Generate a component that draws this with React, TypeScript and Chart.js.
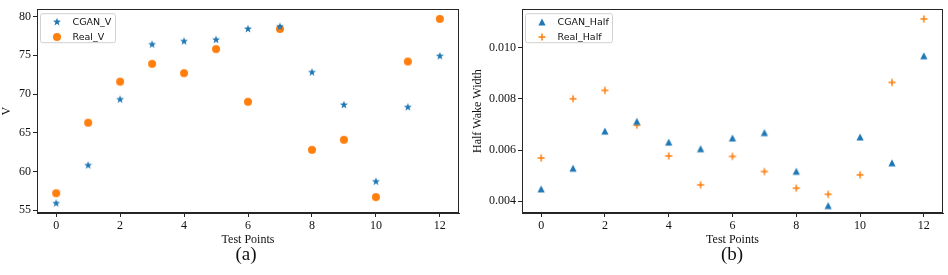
import React, { useEffect, useRef } from 'react';
import { Chart, registerables } from 'chart.js';
Chart.register(...registerables);

const testPoints = [0, 1, 2, 3, 4, 5, 6, 7, 8, 9, 10, 11, 12];
const cganV = [55.9, 60.8, 69.3, 76.4, 76.8, 77.0, 78.4, 78.7, 72.8, 68.6, 58.7, 68.3, 74.9];
const realV = [57.2, 66.3, 71.6, 73.9, 72.7, 75.8, 69.0, 78.4, 62.8, 64.1, 56.7, 74.2, 79.7];
const cganHalf = [0.00448, 0.00529, 0.00674, 0.00712, 0.00631, 0.00605, 0.00647, 0.00668, 0.00517, 0.00383, 0.00651, 0.0055, 0.00968];
const realHalf = [0.00569, 0.0080, 0.00833, 0.00697, 0.00577, 0.00464, 0.00575, 0.00516, 0.00451, 0.00427, 0.00503, 0.00864, 0.01112];
const xTicks = [0, 2, 4, 6, 8, 10, 12];
const vTicks = [55, 60, 65, 70, 75, 80];
const halfTicks = [0.004, 0.006, 0.008, 0.010];

const BLUE = '#1f77b4';
const ORANGE = '#ff7f0e';
const SERIF = "'Liberation Serif', 'Times New Roman', serif";
const SANS = "'DejaVu Sans', sans-serif";

type Marker = 'star' | 'circle' | 'triangle' | 'plus';

function makeMarker(kind: Marker, color: string): HTMLCanvasElement {
  const s = 10;
  const c = document.createElement('canvas');
  c.width = s;
  c.height = s;
  const ctx = c.getContext('2d')!;
  const cx = s / 2, cy = s / 2;
  ctx.fillStyle = color;
  ctx.strokeStyle = color;
  if (kind === 'star') {
    const R = 4.2, r = 1.7;
    ctx.beginPath();
    for (let i = 0; i < 10; i++) {
      const ang = -Math.PI / 2 + (i * Math.PI) / 5;
      const rad = i % 2 === 0 ? R : r;
      const px = cx + rad * Math.cos(ang);
      const py = cy + rad * Math.sin(ang);
      if (i === 0) ctx.moveTo(px, py); else ctx.lineTo(px, py);
    }
    ctx.closePath();
    ctx.fill();
  } else if (kind === 'circle') {
    ctx.beginPath();
    ctx.arc(cx, cy, 4, 0, Math.PI * 2);
    ctx.fill();
  } else if (kind === 'triangle') {
    ctx.beginPath();
    ctx.moveTo(cx, cy - 3.6);
    ctx.lineTo(cx + 3.6, cy + 3.6);
    ctx.lineTo(cx - 3.6, cy + 3.6);
    ctx.closePath();
    ctx.fill();
  } else {
    ctx.lineWidth = 1.5;
    ctx.beginPath();
    ctx.moveTo(cx - 3.5, cy);
    ctx.lineTo(cx + 3.5, cy);
    ctx.moveTo(cx, cy - 3.5);
    ctx.lineTo(cx, cy + 3.5);
    ctx.stroke();
  }
  return c;
}

interface PanelProps {
  width: number;
  height: number;
  left: number;
  yAxisWidth: number;
  rightPad: number;
  yMin: number;
  yMax: number;
  yTicks: number[];
  yDecimals: number;
  yTitle: string;
  yTitlePad: number;
  names: string[];
  series: number[][];
  markers: Marker[];
  colors: string[];
}

function Panel(p: PanelProps) {
  const ref = useRef<HTMLCanvasElement>(null);
  useEffect(() => {
    const imgs = p.markers.map((m, i) => makeMarker(m, p.colors[i]));
    const framePlugin = {
      id: 'frameLegend',
      afterDraw(chart: any) {
        const { ctx, chartArea: a } = chart;
        ctx.save();
        ctx.strokeStyle = '#262626';
        ctx.lineWidth = 1;
        ctx.strokeRect(Math.round(a.left) + 0.5, Math.round(a.top) + 0.5, Math.round(a.right - a.left) - 1, Math.round(a.bottom - a.top) - 1);
        // legend
        ctx.font = `9.5px ${SANS}`;
        const maxW = Math.max(...p.names.map((n) => ctx.measureText(n).width));
        const bx = a.left + 3.5, by = a.top + 4.5;
        const bw = Math.round(32 + maxW + 4), bh = 29;
        const r = 2;
        ctx.beginPath();
        ctx.moveTo(bx + r, by);
        ctx.lineTo(bx + bw - r, by);
        ctx.quadraticCurveTo(bx + bw, by, bx + bw, by + r);
        ctx.lineTo(bx + bw, by + bh - r);
        ctx.quadraticCurveTo(bx + bw, by + bh, bx + bw - r, by + bh);
        ctx.lineTo(bx + r, by + bh);
        ctx.quadraticCurveTo(bx, by + bh, bx, by + bh - r);
        ctx.lineTo(bx, by + r);
        ctx.quadraticCurveTo(bx, by, bx + r, by);
        ctx.closePath();
        ctx.fillStyle = 'rgba(255,255,255,0.8)';
        ctx.fill();
        ctx.strokeStyle = '#d0d0d0';
        ctx.stroke();
        ctx.textBaseline = 'middle';
        ctx.textAlign = 'left';
        ctx.fillStyle = '#111';
        p.names.forEach((n, i) => {
          const yy = by + 8.5 + i * 14.5;
          const im = imgs[i];
          ctx.drawImage(im, Math.round(bx + 16 - im.width / 2), Math.round(yy - im.height / 2));
          ctx.fillText(n, bx + 32, yy + 0.5);
        });
        ctx.restore();
      },
    };
    const tickFont = { family: SERIF, size: 12 };
    const chart = new Chart(ref.current!, {
      type: 'scatter',
      data: {
        datasets: p.series.map((vals, i) => ({
          label: p.names[i],
          data: vals.map((v, j) => ({ x: testPoints[j], y: v })),
          pointStyle: imgs[i] as any,
          pointRadius: 4,
          backgroundColor: p.colors[i],
          borderColor: p.colors[i],
        })),
      },
      options: {
        animation: false,
        responsive: false,
        maintainAspectRatio: false,
        layout: { padding: { left: 0, top: 3, right: p.rightPad, bottom: 0 } },
        plugins: { legend: { display: false }, tooltip: { enabled: false } },
        scales: {
          x: {
            type: 'linear',
            min: -0.6,
            max: 12.6,
            afterBuildTicks: (s: any) => {
              s.ticks = xTicks.map((v) => ({ value: v }));
            },
            afterFit: (s: any) => {
              s.height = 37;
            },
            grid: { display: true, drawOnChartArea: false, drawTicks: true, tickLength: 4, color: '#262626', lineWidth: 1 },
            border: { display: true, color: '#262626' },
            ticks: { font: tickFont, color: '#111', padding: 2, maxRotation: 0, autoSkip: false, callback: (v: any) => String(v) },
            title: { display: true, text: 'Test Points', font: tickFont, color: '#111', padding: { top: 0, bottom: 3 } },
          },
          y: {
            type: 'linear',
            min: p.yMin,
            max: p.yMax,
            afterBuildTicks: (s: any) => {
              s.ticks = p.yTicks.map((v) => ({ value: v }));
            },
            afterFit: (s: any) => {
              s.width = p.yAxisWidth;
            },
            grid: { display: true, drawOnChartArea: false, drawTicks: true, tickLength: 4, color: '#262626', lineWidth: 1 },
            border: { display: true, color: '#262626' },
            ticks: { font: tickFont, color: '#111', padding: 2, autoSkip: false, callback: (v: any) => Number(v).toFixed(p.yDecimals) },
            title: { display: true, text: p.yTitle, font: tickFont, color: '#111', padding: { top: p.yTitlePad, bottom: 0 } },
          },
        },
      },
      plugins: [framePlugin],
    } as any);
    return () => chart.destroy();
  }, []);
  return (
    <canvas
      ref={ref}
      width={p.width}
      height={p.height}
      style={{ position: 'absolute', left: p.left, top: 0, width: p.width, height: p.height }}
    />
  );
}

export default function App() {
  return (
    <div style={{ position: 'absolute', left: 0, top: 0, width: 948, height: 275, background: '#fff', overflow: 'hidden' }}>
      <Panel
        width={470}
        height={250}
        left={0}
        yAxisWidth={37}
        rightPad={11}
        yMin={54.65}
        yMax={80.95}
        yTicks={vTicks}
        yDecimals={0}
        yTitle="V"
        yTitlePad={0}
        names={['CGAN_V', 'Real_V']}
        series={[cganV, realV]}
        markers={['star', 'circle']}
        colors={[BLUE, ORANGE]}
      />
      <Panel
        width={478}
        height={250}
        left={470}
        yAxisWidth={52}
        rightPad={3}
        yMin={0.00354}
        yMax={0.0115}
        yTicks={halfTicks}
        yDecimals={3}
        yTitle="Half Wake Width"
        yTitlePad={1}
        names={['CGAN_Half', 'Real_Half']}
        series={[cganHalf, realHalf]}
        markers={['triangle', 'plus']}
        colors={[BLUE, ORANGE]}
      />
      <div style={{ position: 'absolute', left: 196, width: 100, top: 243, textAlign: 'center', fontFamily: SERIF, fontSize: 19, lineHeight: '22px', color: '#111' }}>(a)</div>
      <div style={{ position: 'absolute', left: 682, width: 100, top: 243, textAlign: 'center', fontFamily: SERIF, fontSize: 19, lineHeight: '22px', color: '#111' }}>(b)</div>
    </div>
  );
}
